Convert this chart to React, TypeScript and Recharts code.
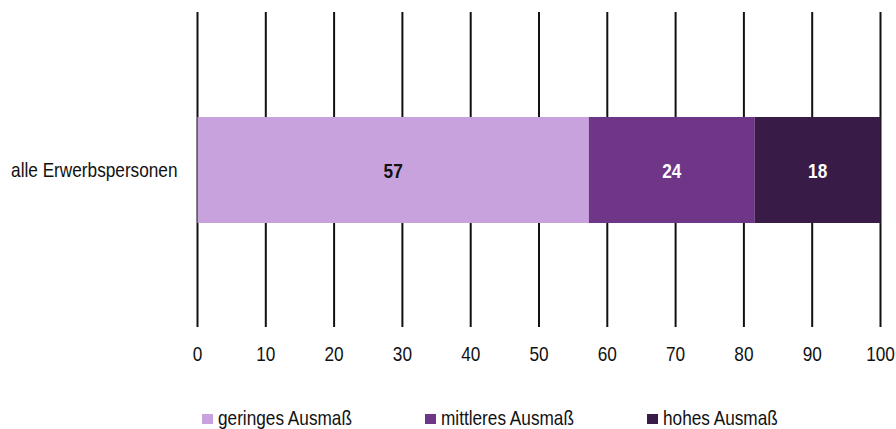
import React from "react";
import { BarChart, Bar, XAxis, YAxis, CartesianGrid, LabelList } from "recharts";

const categories = ["alle Erwerbspersonen"];
const seriesNames = ["geringes Ausmaß", "mittleres Ausmaß", "hohes Ausmaß"];
const geringes = [57.3];
const mittleres = [24.3];
const hohes = [18.4];
const xTicks = [0, 10, 20, 30, 40, 50, 60, 70, 80, 90, 100];

const colors = ["#C8A2DC", "#6F3587", "#381C47"];
const labelColors = ["#111111", "#FFFFFF", "#FFFFFF"];
const keys = ["geringes", "mittleres", "hohes"];

const data = categories.map((c, i) => ({
  name: c,
  geringes: geringes[i],
  mittleres: mittleres[i],
  hohes: hohes[i],
}));

const FONT = '"Liberation Sans", Arial, sans-serif';
const NARROW = 0.82;
const FS = 21;

const XTick = (props: any) => {
  const { x, y, payload } = props;
  return (
    <text
      transform={`translate(${x},${y + 34}) scale(${NARROW},1)`}
      textAnchor="middle"
      fontSize={FS}
      fontFamily={FONT}
      fill="#111"
    >
      {payload.value}
    </text>
  );
};

const YTick = (props: any) => {
  const { x, y, payload } = props;
  return (
    <text
      transform={`translate(${x},${y + 7.5}) scale(${NARROW},1)`}
      textAnchor="end"
      fontSize={FS}
      fontFamily={FONT}
      fill="#111"
    >
      {payload.value}
    </text>
  );
};

const makeLabel = (color: string) => (props: any) => {
  const { x, y, width, height, value } = props;
  const cx = Number(x) + Number(width) / 2;
  const cy = Number(y) + Number(height) / 2;
  return (
    <text
      transform={`translate(${cx},${cy + 7.5}) scale(${NARROW},1)`}
      textAnchor="middle"
      fontSize={FS}
      fontWeight="bold"
      fontFamily={FONT}
      fill={color}
    >
      {Math.round(Number(value))}
    </text>
  );
};

const legendX = [202, 425, 647];

export default function App() {
  return (
    <div style={{ position: "absolute", left: 0, top: 0, width: 896, height: 429, background: "#fff" }}>
      <BarChart
        width={896}
        height={429}
        data={data}
        layout="vertical"
        margin={{ top: 12, right: 15.5, bottom: 72, left: 0 }}
        barSize={106}
      >
        <CartesianGrid
          vertical
          horizontal={false}
          stroke="#111"
          strokeWidth={2}
          verticalValues={xTicks}
          syncWithTicks
        />
        <XAxis
          type="number"
          domain={[0, 100]}
          ticks={xTicks}
          axisLine={false}
          tickLine={false}
          tickSize={0}
          tickMargin={0}
          height={30}
          interval={0}
          tick={<XTick />}
        />
        <YAxis
          type="category"
          dataKey="name"
          width={197.5}
          axisLine={false}
          tickLine={false}
          tickSize={0}
          tickMargin={20}
          tick={<YTick />}
        />
        {keys.map((k, i) => (
          <Bar key={k} dataKey={k} stackId="a" fill={colors[i]} isAnimationActive={false} name={seriesNames[i]}>
            <LabelList dataKey={k} content={makeLabel(labelColors[i])} />
          </Bar>
        ))}
      </BarChart>
      <svg width={896} height={429} style={{ position: "absolute", left: 0, top: 0, pointerEvents: "none" }}>
        {seriesNames.map((n, i) => (
          <g key={n}>
            <rect x={legendX[i]} y={414} width={11} height={10} fill={colors[i]} />
            <text
              transform={`translate(${legendX[i] + 16},${425}) scale(${NARROW},1)`}
              fontSize={FS}
              fontFamily={FONT}
              fill="#111"
            >
              {n}
            </text>
          </g>
        ))}
      </svg>
    </div>
  );
}
